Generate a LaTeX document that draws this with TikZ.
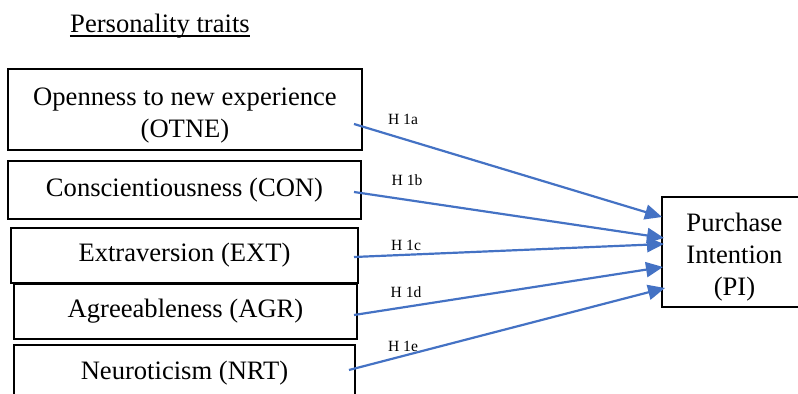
\documentclass[tikz,border=0pt]{standalone}
\usepackage{fontspec}
\setmainfont{Liberation Serif}
\usepackage{tikz}
\usetikzlibrary{positioning,arrows.meta,calc}
\definecolor{hypclr}{RGB}{68,114,196}
\newcommand{\twolines}[1]{\raisebox{0pt}[\dimexpr\height+5.6pt\relax][\depth]{\begin{tabular}{@{}c@{}}#1\end{tabular}}}
\tikzset{
  trait/.style={rectangle,draw=black,line width=1pt,inner sep=0pt,
                align=center,font=\fontsize{13.3}{16}\selectfont},
  hyp/.style={-{Triangle[length=8.5pt,width=7.5pt]},draw=hypclr,line width=1.1pt},
  hyplbl/.style={inner sep=0pt,font=\fontsize{7.8}{9}\selectfont},
}
\begin{document}
\begin{tikzpicture}[x=0.5pt,y=-0.5pt]
\useasboundingbox (0,0) rectangle (798,394);
\clip (0,0) rectangle (798,394);
\node[anchor=base, inner sep=0pt, font=\fontsize{13.3}{16}\selectfont] (title)
      at (160,33) {Personality traits};
\draw[line width=0.8pt] ([yshift=-1.6pt]title.base west) -- ([yshift=-1.6pt]title.base east);
\node[trait, minimum width=177pt, minimum height=40.5pt] (otne) at (185,109.5)
      {\twolines{Openness to new experience\\(OTNE)}};
\node[trait, minimum width=176.5pt, minimum height=29pt] (con) at (184.5,190)
      {Conscientiousness (CON)};
\node[trait, minimum width=173.5pt, minimum height=27.5pt] (ext) at (184.5,255.5)
      {Extraversion (EXT)};
\node[trait, minimum width=171.5pt, minimum height=27.5pt] (agr) at (185.5,311.5)
      {Agreeableness (AGR)};
\node[trait, minimum width=170.5pt, minimum height=28.5pt] (nrt) at (184.5,373.5)
      {Neuroticism (NRT)};
\node[trait, minimum width=72.5pt, minimum height=55pt] (pi) at (734.5,252)
      {\twolines{Purchase\\Intention\\(PI)}};
% hypotheses
\draw[hyp] ([shift={(-9,14.5)}]otne.east) -- ([shift={(1,-35)}]pi.west);
\draw[hyp] ([shift={(-8,2)}]con.east) -- ([shift={(3,-14)}]pi.west);
\draw[hyp] ([shift={(-5,1.5)}]ext.east) -- ([shift={(3,-8)}]pi.west);
\draw[hyp] ([shift={(-4,3.5)}]agr.east) -- ([shift={(2,15)}]pi.west);
\draw[hyp] ([shift={(-7,-3.5)}]nrt.east) -- ([shift={(4,36)}]pi.west);
\node[hyplbl] (h1a) at (403,119) {H 1a};
\node[hyplbl] (h1b) at (407,180) {H 1b};
\node[hyplbl] (h1c) at (406,245) {H 1c};
\node[hyplbl] (h1d) at (406,292) {H 1d};
\node[hyplbl] (h1e) at (403,346) {H 1e};
\end{tikzpicture}
\end{document}
